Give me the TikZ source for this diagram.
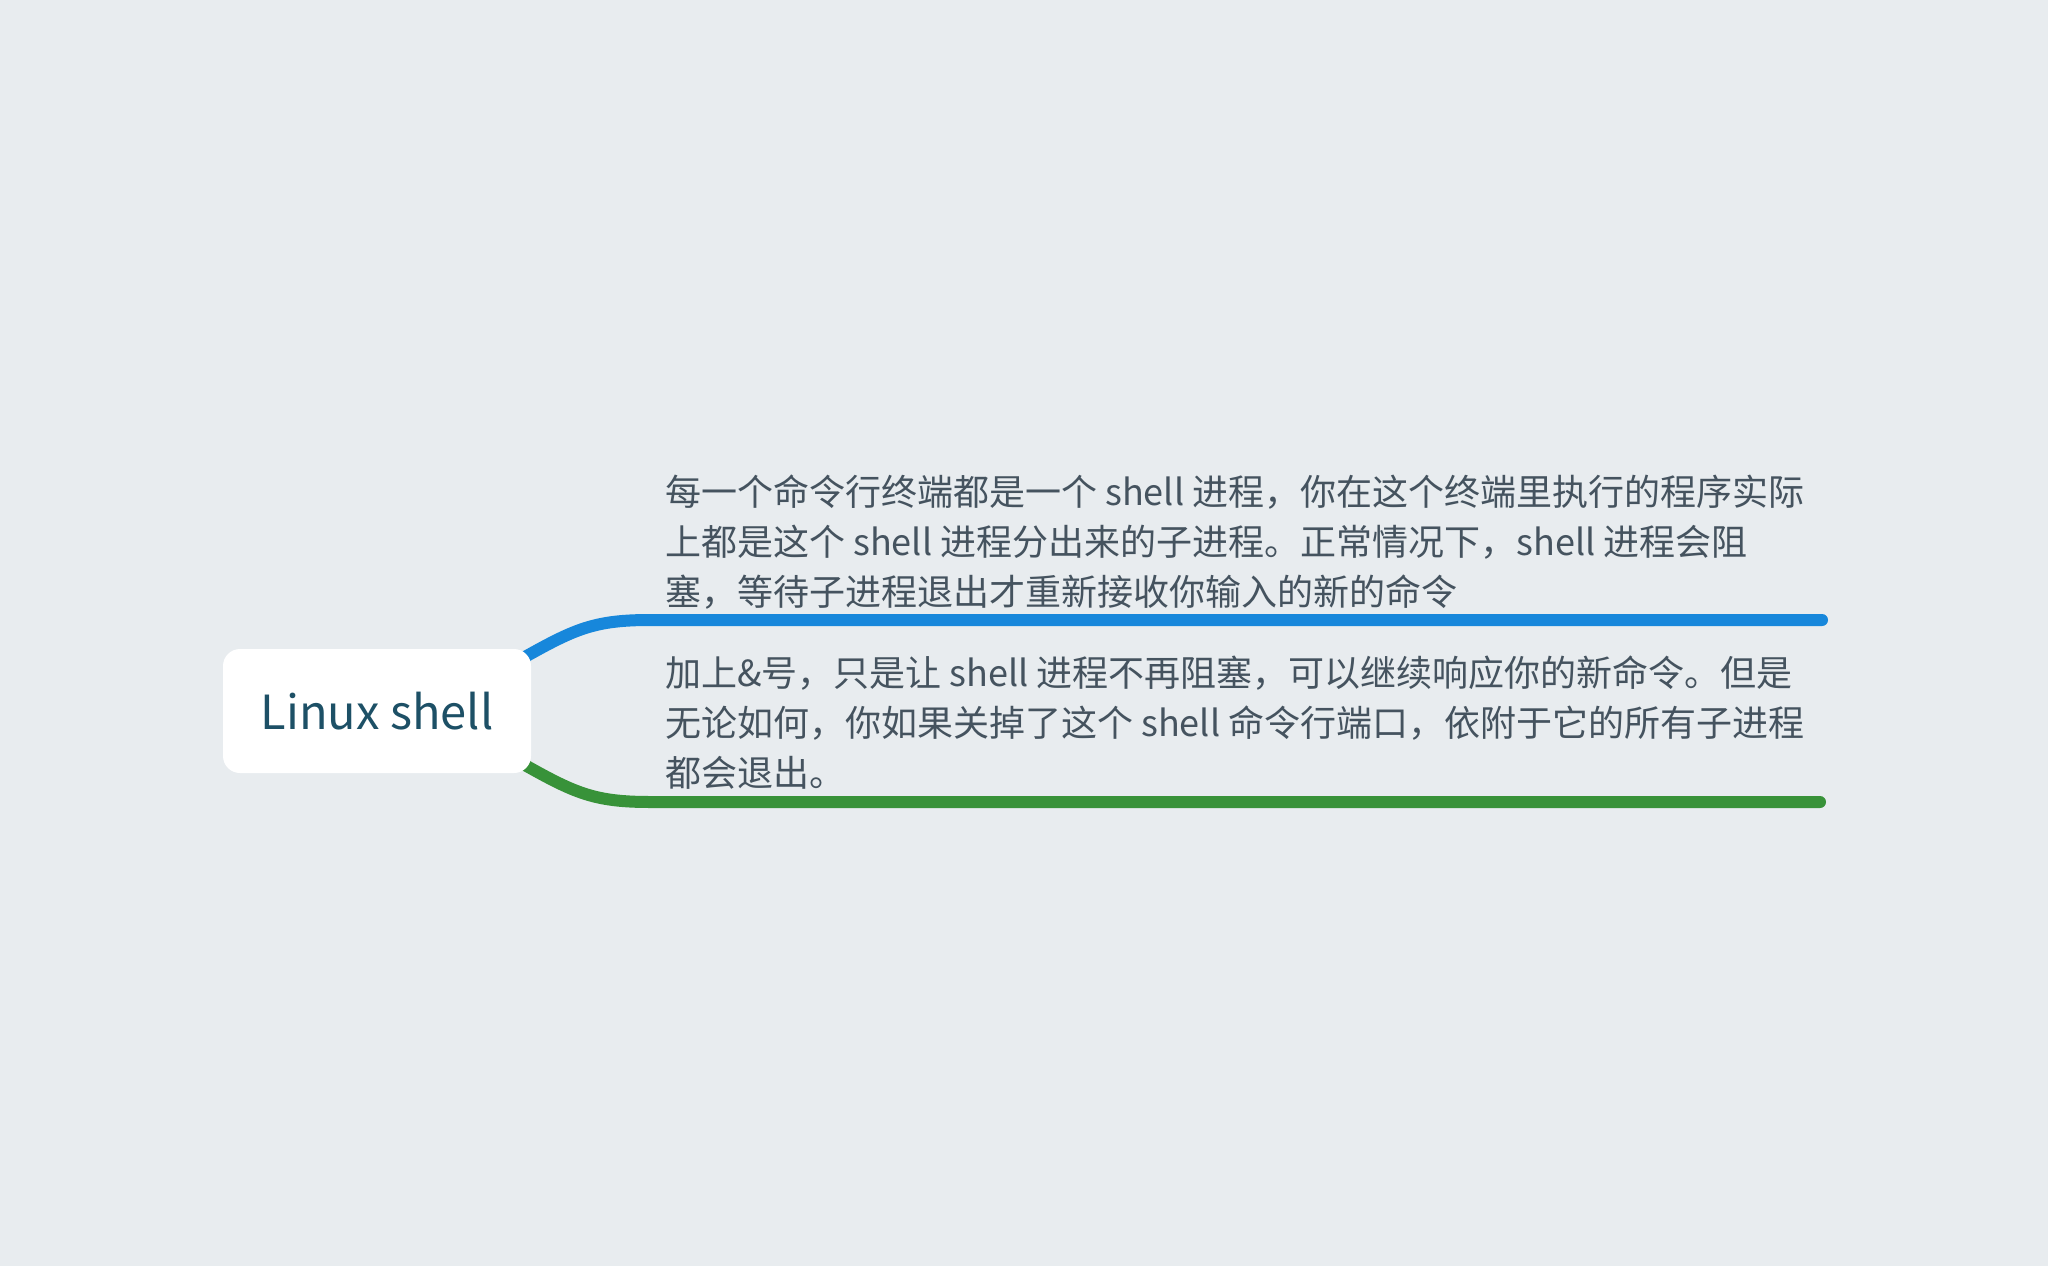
\documentclass[tikz,border=0pt]{standalone}
\usepackage{fontspec}
\setmainfont{Noto Sans CJK SC}
\definecolor{bgcol}{HTML}{E8ECEF}
\definecolor{bluebranch}{HTML}{1787DB}
\definecolor{greenbranch}{HTML}{389239}
\definecolor{bodytext}{HTML}{45535F}
\definecolor{roottext}{HTML}{1D5066}
\pgfdeclarelayer{back}
\pgfdeclarelayer{lines}
\pgfsetlayers{back,lines,main}
\begin{document}
\begin{tikzpicture}[x=1pt,y=-1pt,
	rootbox/.style={fill=white,rounded corners=17pt,minimum width=308pt,minimum height=124pt,inner sep=0pt,text=roottext,font=\fontsize{47}{47}\selectfont},
	leaftext/.style={anchor=west,inner sep=0pt,align=left,text=bodytext,font=\fontsize{36}{50}\selectfont},
	branch/.style={line width=12pt,line cap=round}]
	% Background
	\begin{pgfonlayer}{back}
		\fill[bgcol] (0,0) rectangle (2048,1266);
	\end{pgfonlayer}
	% Root
	\node[rootbox] (root) at (377,711) {Linux shell};
	% Leaves
	\node[leaftext] (leafa) at (665,542) {每一个命令行终端都是一个 shell 进程，你在这个终端里执行的程序实际\\上都是这个 shell 进程分出来的子进程。正常情况下，shell 进程会阻\\塞，等待子进程退出才重新接收你输入的新的命令};
	\node[leaftext] (leafb) at (665,723) {加上\&号，只是让 shell 进程不再阻塞，可以继续响应你的新命令。但是\\无论如何，你如果关掉了这个 shell 命令行端口，依附于它的所有子进程\\都会退出。};
	\coordinate (enda) at (1822,620);
	\coordinate (endb) at (1820,802);
	% Branches
	\begin{pgfonlayer}{lines}
		\draw[branch,bluebranch] ([xshift=-6pt,yshift=-8pt]root.north east) .. controls +(50,-28) and +(-55,0) .. (650,620) -- (enda);
		\draw[branch,greenbranch] ([xshift=-6pt,yshift=8pt]root.south east) .. controls +(50,28) and +(-55,0) .. (650,802) -- (endb);
	\end{pgfonlayer}
\end{tikzpicture}
\end{document}
